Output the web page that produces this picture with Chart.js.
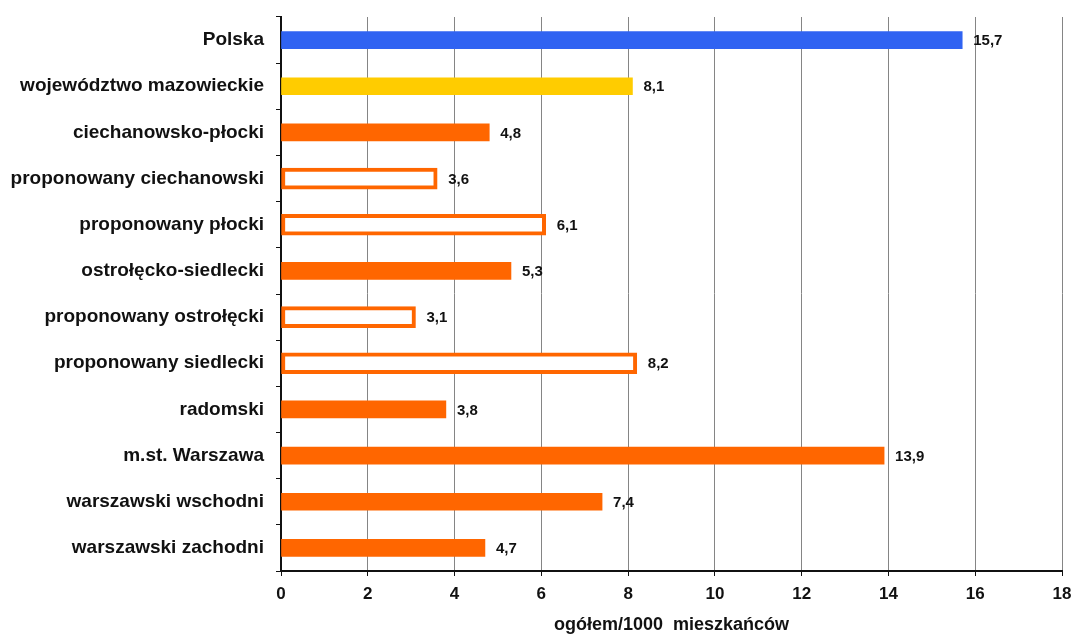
<!DOCTYPE html>
<html>
<head>
<meta charset="utf-8">
<script src="https://cdn.jsdelivr.net/npm/chart.js@4.4.1/dist/chart.umd.min.js"></script>
<style>
  html, body { margin: 0; padding: 0; background: #fff; }
  #wrap { width: 1075px; height: 634px; position: relative; }
</style>
</head>
<body>
<div id="wrap"><canvas id="chart"></canvas></div>
<script>
// regions and rates per 1000 inhabitants
const regions = [
    'Polska',
    'województwo mazowieckie',
    'ciechanowsko-płocki',
    'proponowany ciechanowski',
    'proponowany płocki',
    'ostrołęcko-siedlecki',
    'proponowany ostrołęcki',
    'proponowany siedlecki',
    'radomski',
    'm.st. Warszawa',
    'warszawski wschodni',
    'warszawski zachodni',
];
const rates = [15.7, 8.1, 4.8, 3.6, 6.1, 5.3, 3.1, 8.2, 3.8, 13.9, 7.4, 4.7];
// 'proponowany' rows are drawn as outline bars
const hollow = [false, false, false, true, true, false, true, true, false, false, false, false];
const xTicks = [0, 2, 4, 6, 8, 10, 12, 14, 16, 18];

const FONT = '"Liberation Sans", Arial, sans-serif';
const ORANGE = '#ff6600';

const solidValues = rates.map((v, i) => (hollow[i] ? null : v));
const hollowValues = rates.map((v, i) => (hollow[i] ? v : null));
const solidColors = regions.map((_, i) => {
    if (i === 0) return '#3063f2';
    if (i === 1) return '#ffcc00';
    return ORANGE;
});

/** draws "15,7" style labels right of each bar */
const valueLabels = {
    id: 'valueLabels',
    afterDatasetsDraw(chart) {
        const ctx = chart.ctx;
        ctx.save();
        ctx.font = 'bold 15px ' + FONT;
        ctx.fillStyle = '#111';
        ctx.textBaseline = 'middle';
        ctx.textAlign = 'left';
        chart.data.datasets.forEach((ds, di) => {
            chart.getDatasetMeta(di).data.forEach((bar, i) => {
                if (ds.data[i] == null) return;
                const txt = ds.data[i].toFixed(1).replace('.', ',');
                ctx.fillText(txt, bar.x + 11, bar.y + 1);
            });
        });
        ctx.restore();
    },
};

new Chart(document.getElementById('chart'), {
    type: 'bar',
    data: {
        labels: regions,
        datasets: [
            {
                data: solidValues,
                backgroundColor: solidColors,
                borderWidth: 0,
                barThickness: 17,
                grouped: false,
            },
            {
                data: hollowValues,
                backgroundColor: '#ffffff',
                borderColor: ORANGE,
                borderWidth: 4,
                borderSkipped: false,
                barThickness: 21,
                grouped: false,
            },
        ],
    },
    options: {
        indexAxis: 'y',
        responsive: true,
        maintainAspectRatio: false,
        animation: false,
        layout: { padding: { top: 17, right: 13, left: 0, bottom: 0 } },
        plugins: {
            legend: { display: false },
            tooltip: { enabled: false },
        },
        scales: {
            x: {
                min: 0, max: 18,
                afterBuildTicks: (s) => { s.ticks = xTicks.map((v) => ({ value: v })); },
                afterFit: (s) => { s.height = 63; s.paddingLeft = 0; s.paddingRight = 0; },
                grid: { color: '#858585', lineWidth: 1, tickColor: '#111', tickLength: 5 },
                border: { color: '#111', width: 2 },
                ticks: { color: '#111', padding: 8, font: { family: FONT, size: 17, weight: 'bold' } },
                title: {
                    display: true,
                    text: 'ogółem/1000  mieszkańców',
                    color: '#111',
                    padding: { top: 4, bottom: -2 },
                    font: { family: FONT, size: 18, weight: 'bold' },
                },
            },
            y: {
                afterFit: (s) => { s.width = 281; s.paddingTop = 0; s.paddingBottom = 0; },
                grid: { offset: true, drawOnChartArea: false, color: '#111', tickLength: 5 },
                border: { color: '#111', width: 2 },
                ticks: { color: '#111', padding: 12, font: { family: FONT, size: 19, weight: 'bold' } },
            },
        },
    },
    plugins: [valueLabels],
});
</script>
</body>
</html>
